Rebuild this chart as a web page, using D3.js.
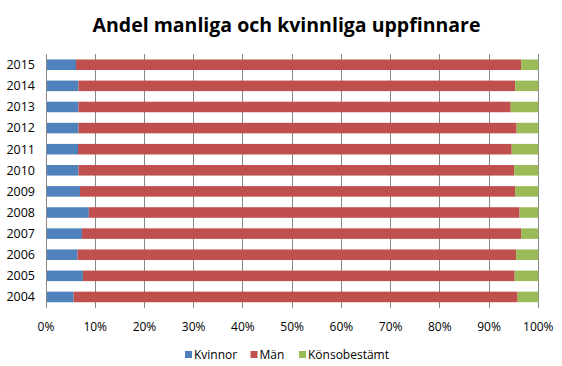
<!DOCTYPE html>
<html><head><meta charset="utf-8">
<script src="https://cdn.jsdelivr.net/npm/d3@7"></script>
<style>body{margin:0;background:#fff}svg{display:block}text{font-family:"Open Sans",sans-serif}</style>
</head><body>
<script>
const years = ["2015","2014","2013","2012","2011","2010","2009","2008","2007","2006","2005","2004"];
const kvinnor = [6.1,6.6,6.6,6.6,6.5,6.6,6.9,8.7,7.3,6.4,7.5,5.6];
const man     = [90.4,88.7,87.8,89.0,88.1,88.5,88.4,87.5,89.2,89.1,87.7,90.2];
const konsobestamt = [3.5,4.7,5.6,4.4,5.4,4.9,4.7,3.8,3.5,4.5,4.8,4.2];
const seriesNames = ["Kvinnor","Män","Könsobestämt"];
const colors = ["#4F81BD","#C0504D","#9BBB59"];
const xTicks = [0,0.1,0.2,0.3,0.4,0.5,0.6,0.7,0.8,0.9,1];

const W=562,H=366;
const svg=d3.select("body").append("svg").attr("width",W).attr("height",H);
const x=d3.scaleLinear().domain([0,1]).range([46,538.3]);
const y=d3.scaleBand().domain(years).range([54.2,307.5]).paddingInner(0.5).paddingOuter(0.25);

const rows = years.map((yr,i)=>{const t=kvinnor[i]+man[i]+konsobestamt[i];return {year:yr,Kvinnor:kvinnor[i]/t,"Män":man[i]/t,"Könsobestämt":konsobestamt[i]/t};});
const stack=d3.stack().keys(seriesNames)(rows);

// gridlines
svg.append("g").selectAll("line").data(xTicks.slice(1)).join("line")
 .attr("x1",d=>x(d)).attr("x2",d=>x(d)).attr("y1",54.2).attr("y2",307.5)
 .attr("stroke","#878787").attr("stroke-width",1).attr("shape-rendering","crispEdges");

stack.forEach((s,k)=>{
  svg.append("g").attr("fill",colors[k]).selectAll("rect").data(s).join("rect")
   .attr("x",d=>x(d[0])).attr("width",d=>x(d[1])-x(d[0]))
   .attr("y",d=>y(d.data.year)).attr("height",y.bandwidth());
});

// left axis line
svg.append("line").attr("x1",46).attr("x2",46).attr("y1",54.2).attr("y2",307.5)
 .attr("stroke","#878787").attr("shape-rendering","crispEdges");

// y labels
svg.append("g").selectAll("text").data(years).join("text")
 .attr("x",35).attr("y",d=>y(d)+y.bandwidth()/2).attr("dy","0.35em")
 .attr("text-anchor","end").attr("font-size",12.5).attr("fill","#000").text(d=>d);

// x labels
svg.append("g").selectAll("text").data(xTicks).join("text")
 .attr("x",d=>x(d)).attr("y",327).attr("dy","0.35em").attr("text-anchor","middle")
 .attr("font-size",12).attr("fill","#000").text(d=>d3.format(".0%")(d));

// title
svg.append("text").attr("x",286.5).attr("y",32).attr("text-anchor","middle")
 .attr("font-size",19.5).attr("font-weight","bold").attr("fill","#000")
 .text("Andel manliga och kvinnliga uppfinnare");

// legend
const legX=[185,250.5,299];
const lg=svg.append("g");
seriesNames.forEach((n,i)=>{
  lg.append("rect").attr("x",legX[i]).attr("y",351).attr("width",7).attr("height",7).attr("fill",colors[i]);
  lg.append("text").attr("x",legX[i]+9).attr("y",354.5).attr("dy","0.35em").attr("font-size",12).attr("fill","#000").text(n);
});
</script>
</body></html>
